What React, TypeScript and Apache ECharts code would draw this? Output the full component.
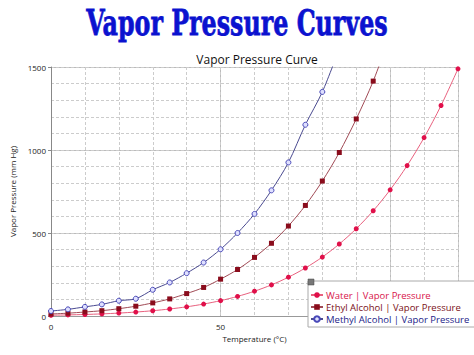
import React, { useEffect, useRef } from "react";
import * as echarts from "echarts";

const temps = [0, 5, 10, 15, 20, 25, 30, 35, 40, 45, 50, 55, 60, 65, 70, 75, 80, 85, 90, 95, 100, 105, 110, 115, 120];
const water = [4.6, 6.5, 9.2, 12.8, 17.5, 23.8, 31.8, 42.2, 55.3, 71.9, 92.5, 118, 149.4, 187.5, 233.7, 289.1, 355.1, 433.6, 525.8, 633.9, 760, 906, 1074.6, 1268, 1489];
const ethyl = [12, 17, 24, 32, 44, 59, 79, 103, 135, 172, 222, 280, 353, 438, 542, 666, 813, 985, 1187, 1415, 1693];
const methyl = [30, 40, 55, 70, 92, 104, 158, 202, 258, 322, 402, 500, 615, 757, 925, 1152, 1350, 1610];

const seriesNames = ["Water | Vapor Pressure", "Ethyl Alcohol | Vapor Pressure", "Methyl Alcohol | Vapor Pressure"];
const mainTitle = "Vapor Pressure Curves";
const chartTitle = "Vapor Pressure Curve";
const xName = "Temperature (°C)";
const yName = "Vapor Pressure (mm Hg)";
const xLabelsShown = [0, 50];

const pairs = (vals: number[]) => vals.map((v, i) => [temps[i], v]);

export default function App() {
  const ref = useRef<HTMLDivElement>(null);
  useEffect(() => {
    document.body.style.margin = "0";
    const chart = echarts.init(ref.current!, null, { renderer: "svg" });
    const font = "'Open Sans', 'DejaVu Sans', sans-serif";
    chart.setOption({
      animation: false,
      backgroundColor: "#fff",
      title: {
        text: chartTitle,
        left: 252,
        textAlign: "center",
        top: 48,
        textStyle: { fontSize: 12, fontWeight: "normal", color: "#111", fontFamily: font },
      },
      graphic: [
        {
          type: "text",
          x: 237,
          y: 4,
          scaleX: 0.66,
          z: 10,
          style: {
            text: mainTitle,
            fill: "#0b12cf",
            font: "bold 36px 'DejaVu Serif', serif",
            textAlign: "center",
            textVerticalAlign: "top",
            stroke: "#0b12cf",
            lineWidth: 0.8,
          },
        },
        {
          type: "rect",
          z: 100,
          shape: { x: 308, y: 279, width: 6, height: 6 },
          style: { fill: "#777", stroke: "#444", lineWidth: 0.5 },
        },
      ],
      grid: { left: 46, right: 16, top: 67, bottom: 39, containLabel: false },
      legend: {
        orient: "vertical",
        left: 308,
        top: 281,
        itemGap: 2,
        itemWidth: 12,
        itemHeight: 7,
        padding: [9, 6, 3, 2],
        backgroundColor: "#fff",
        borderColor: "#aaa",
        borderWidth: 1,
        borderRadius: 0,
        z: 50,
        data: [
          { name: seriesNames[0], textStyle: { color: "#d8134a" } },
          { name: seriesNames[1], textStyle: { color: "#7a1018" } },
          { name: seriesNames[2], textStyle: { color: "#222288" } },
        ],
        textStyle: { fontSize: 9.5, fontFamily: font, padding: [0, 0, 0, -2] },
      },
      xAxis: [
        {
          type: "value",
          min: 0,
          max: 120,
          interval: 50,
          name: xName,
          nameLocation: "middle",
          nameGap: 16,
          nameTextStyle: { fontSize: 8, color: "#222", fontFamily: font },
          axisLine: { show: true, lineStyle: { color: "#999" } },
          axisTick: { show: false },
          axisLabel: {
            fontSize: 8,
            color: "#222",
            fontFamily: font,
            margin: 6,
            showMaxLabel: false,
            formatter: (v: number) => (xLabelsShown.includes(v) ? String(v) : ""),
          },
          splitLine: { show: true, lineStyle: { color: "#bbb", width: 1 } },
        },
        {
          type: "value",
          min: 0,
          max: 120,
          interval: 10,
          position: "bottom",
          axisLine: { show: false },
          axisTick: { show: false },
          axisLabel: { show: false },
          splitLine: { show: true, lineStyle: { color: "#cccccc", width: 1, type: [3, 2] } },
        },
      ],
      yAxis: [
        {
          type: "value",
          min: 0,
          max: 1500,
          interval: 500,
          name: yName,
          nameLocation: "middle",
          nameGap: 35,
          nameTextStyle: { fontSize: 8, color: "#222", fontFamily: font },
          axisLine: { show: true, lineStyle: { color: "#888" } },
          axisTick: { show: true, length: 3, lineStyle: { color: "#888" } },
          axisLabel: { fontSize: 8, color: "#222", fontFamily: font, margin: 5, formatter: (v: number) => String(v) },
          splitLine: { show: true, lineStyle: { color: "#bbb", width: 1 } },
        },
        {
          type: "value",
          min: 0,
          max: 1500,
          interval: 100,
          position: "left",
          axisLine: { show: false },
          axisTick: { show: false },
          axisLabel: { show: false },
          splitLine: { show: true, lineStyle: { color: "#cccccc", width: 1, type: [3, 2] } },
        },
      ],
      series: [
        {
          name: seriesNames[0],
          type: "line",
          data: pairs(water),
          smooth: 0.3,
          symbol: "circle",
          symbolSize: 5,
          clip: true,
          itemStyle: { color: "#e0104a" },
          lineStyle: { color: "#e8607e", width: 1 },
          z: 3,
        },
        {
          name: seriesNames[1],
          type: "line",
          data: pairs(ethyl),
          smooth: 0.3,
          symbol: "rect",
          symbolSize: 5,
          clip: true,
          itemStyle: { color: "#8a0c1c" },
          lineStyle: { color: "#a04a55", width: 1 },
          z: 4,
        },
        {
          name: seriesNames[2],
          type: "line",
          data: pairs(methyl),
          smooth: 0.3,
          symbol: "circle",
          symbolSize: 5,
          clip: true,
          itemStyle: { color: "#dfe0ff", borderColor: "#4848b8", borderWidth: 1 },
          lineStyle: { color: "#4a4a90", width: 1 },
          z: 5,
        },
      ],
    });
    return () => chart.dispose();
  }, []);
  return <div ref={ref} style={{ width: 474, height: 355, position: "absolute", left: 0, top: 0 }} />;
}
